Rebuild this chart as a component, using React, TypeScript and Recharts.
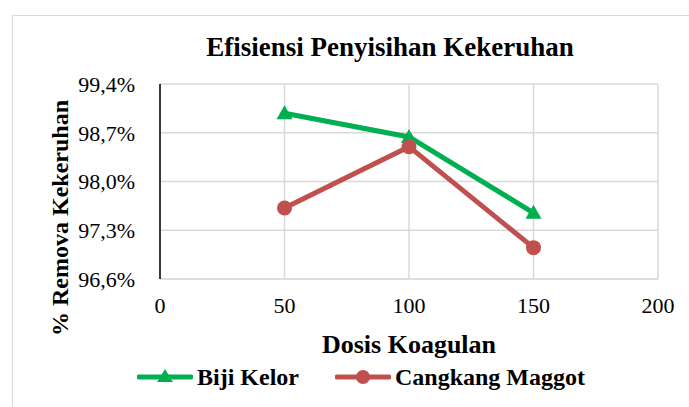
import React from "react";
import { LineChart, Line, XAxis, YAxis, CartesianGrid } from "recharts";

const doses = [50, 100, 150];
const bijiKelor = [98.98, 98.64, 97.55];
const cangkangMaggot = [97.62, 98.5, 97.05];
const xTicks = [0, 50, 100, 150, 200];
const yTicks = [96.6, 97.3, 98.0, 98.7, 99.4];

const GREEN = "#00B050";
const RED = "#C0504D";
const FONT = "Times New Roman";

const data = doses.map((d, i) => ({
  dose: d,
  kelor: bijiKelor[i],
  maggot: cangkangMaggot[i],
}));

const fmtPct = (v: number) => v.toFixed(1).replace(".", ",") + "%";

function Triangle(props: any) {
  const { cx, cy, index } = props;
  if (cx == null || cy == null) return null;
  return (
    <polygon
      key={`tri-${index}`}
      points={`${cx},${cy - 8} ${cx + 8},${cy + 6} ${cx - 8},${cy + 6}`}
      fill={GREEN}
    />
  );
}

function Circle(props: any) {
  const { cx, cy, index } = props;
  if (cx == null || cy == null) return null;
  return <circle key={`cir-${index}`} cx={cx} cy={cy} r={7.5} fill={RED} />;
}

function LegendItem({ label, color, marker }: { label: string; color: string; marker: "tri" | "cir" }) {
  return (
    <span style={{ display: "inline-flex", alignItems: "center", margin: "0 18px" }}>
      <svg width={56} height={16} style={{ marginRight: 4 }}>
        <line x1={2} y1={8} x2={54} y2={8} stroke={color} strokeWidth={5} strokeLinecap="round" />
        {marker === "tri" ? (
          <polygon points="28,0 36,13 20,13" fill={color} />
        ) : (
          <circle cx={28} cy={8} r={7} fill={color} />
        )}
      </svg>
      {label}
    </span>
  );
}

export default function App() {
  return (
    <div style={{ position: "absolute", left: 0, top: 0, width: 689, height: 407, background: "#fff", overflow: "hidden" }}>
      <div
        style={{
          position: "absolute",
          left: 12,
          top: 15,
          width: 700,
          height: 420,
          border: "1px solid #d9d9d9",
        }}
      />
      <div
        style={{
          position: "absolute",
          left: 0,
          top: 30,
          width: 780,
          textAlign: "center",
          fontFamily: FONT,
          fontWeight: "bold",
          fontSize: 27,
          lineHeight: "34px",
        }}
      >
        Efisiensi Penyisihan Kekeruhan
      </div>
      <LineChart
        width={689}
        height={407}
        data={data}
        margin={{ top: 84, right: 31, left: 0, bottom: 88 }}
        style={{ position: "absolute", left: 0, top: 0 }}
      >
        <CartesianGrid stroke="#d9d9d9" strokeWidth={1.5} />
        <XAxis
          dataKey="dose"
          type="number"
          domain={[0, 200]}
          ticks={xTicks}
          tickLine={false}
          axisLine={{ stroke: "#d9d9d9" }}
          tick={{ fill: "#000", fontSize: 22, fontFamily: FONT }}
          tickMargin={12}
          height={40}
        />
        <YAxis
          type="number"
          domain={[96.6, 99.4]}
          ticks={yTicks}
          interval={0}
          tickFormatter={fmtPct}
          tickLine={false}
          axisLine={{ stroke: "#000", strokeWidth: 1.5 }}
          tick={{ fill: "#000", fontSize: 22, fontFamily: FONT }}
          tickMargin={19}
          width={160}
        />
        <Line
          dataKey="kelor"
          name="Biji Kelor"
          stroke={GREEN}
          strokeWidth={5}
          dot={Triangle}
          activeDot={false}
          isAnimationActive={false}
        />
        <Line
          dataKey="maggot"
          name="Cangkang Maggot"
          stroke={RED}
          strokeWidth={5}
          dot={Circle}
          activeDot={false}
          isAnimationActive={false}
        />
      </LineChart>
      <div
        style={{
          position: "absolute",
          left: 160,
          top: 329,
          width: 498,
          textAlign: "center",
          fontFamily: FONT,
          fontWeight: "bold",
          fontSize: 26,
          lineHeight: "32px",
        }}
      >
        Dosis Koagulan
      </div>
      <div
        style={{
          position: "absolute",
          left: 0,
          top: 362,
          width: 722,
          display: "flex",
          justifyContent: "center",
          fontFamily: FONT,
          fontWeight: "bold",
          fontSize: 24,
          lineHeight: "30px",
        }}
      >
        <LegendItem label="Biji Kelor" color={GREEN} marker="tri" />
        <LegendItem label="Cangkang Maggot" color={RED} marker="cir" />
      </div>
      <div
        style={{
          position: "absolute",
          left: 60,
          top: 218,
          transform: "translate(-50%, -50%) rotate(-90deg)",
          whiteSpace: "nowrap",
          fontFamily: FONT,
          fontWeight: "bold",
          fontSize: 24,
        }}
      >
        % Remova Kekeruhan
      </div>
    </div>
  );
}
